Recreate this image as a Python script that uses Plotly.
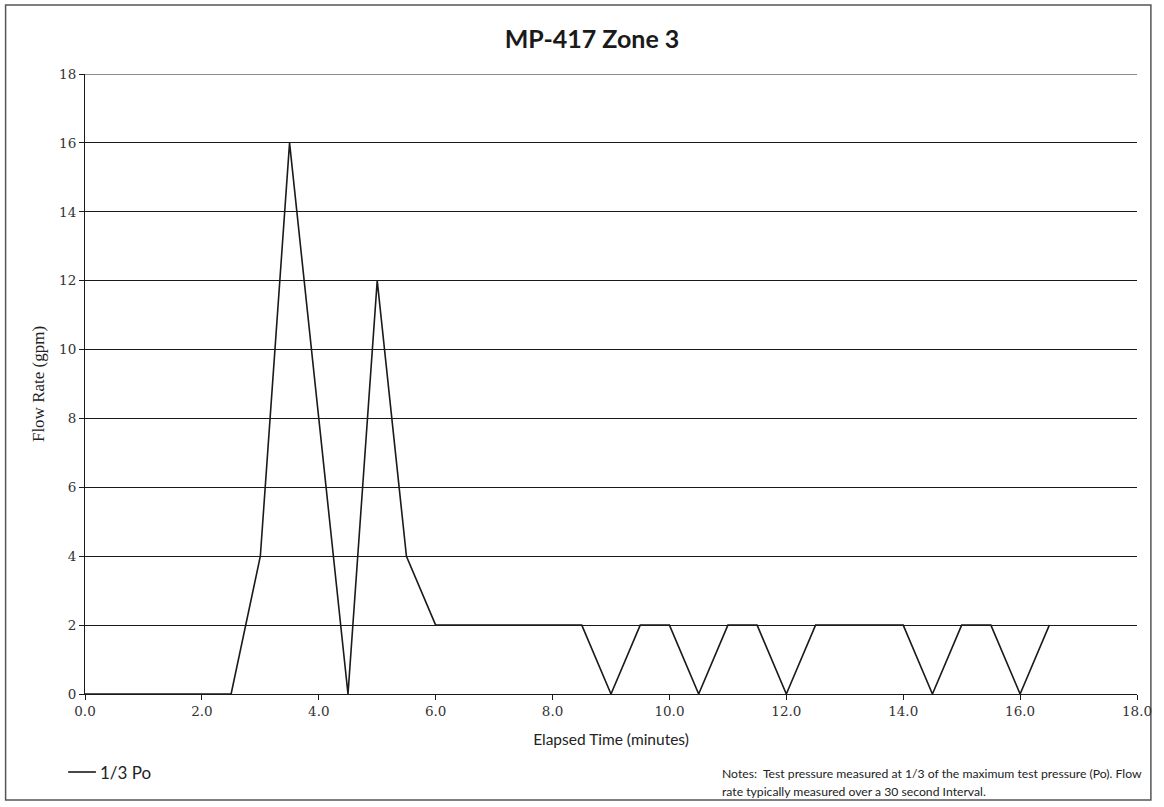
import plotly.graph_objects as go

# Elapsed time (minutes) and flow rate (gpm) at 1/3 Po
elapsed_min = [0.0, 0.5, 1.0, 1.5, 2.0, 2.5, 3.0, 3.5, 4.0, 4.5, 5.0, 5.5,
               6.0, 6.5, 7.0, 7.5, 8.0, 8.5, 9.0, 9.5, 10.0, 10.5, 11.0,
               11.5, 12.0, 12.5, 13.0, 13.5, 14.0, 14.5, 15.0, 15.5, 16.0, 16.5]
flow_gpm = [0, 0, 0, 0, 0, 0, 4, 16, 8, 0, 12, 4,
            2, 2, 2, 2, 2, 2, 0, 2, 2, 0, 2,
            2, 0, 2, 2, 2, 2, 0, 2, 2, 0, 2]

x_ticks = [0, 2, 4, 6, 8, 10, 12, 14, 16, 18]
x_tick_text = ["0.0", "2.0", "4.0", "6.0", "8.0", "10.0", "12.0", "14.0", "16.0", "18.0"]
y_ticks = [0, 2, 4, 6, 8, 10, 12, 14, 16, 18]

series_name = "1/3 Po"
chart_title = "MP-417 Zone 3"
notes_lines = [
    "Notes:  Test pressure measured at 1/3 of the maximum test pressure (Po). Flow",
    "rate typically measured over a 30 second Interval.",
]

W, H = 1164, 807
ML, MR, MT, MB = 85, 19, 74, 113
PW, PH = W - ML - MR, H - MT - MB


def px_to_paper_x(px):
    return (px - ML) / PW


def px_to_paper_y(py):
    return (H - MB - py) / PH


FONT = "Lato"
TICK_FONT = "DejaVu Serif"
INK = "#1a1a1a"

fig = go.Figure()
fig.add_trace(go.Scatter(
    x=elapsed_min, y=flow_gpm, mode="lines", name=series_name,
    line=dict(color=INK, width=1.6), showlegend=False,
))

fig.update_layout(
    width=W, height=H,
    margin=dict(l=ML, r=MR, t=MT, b=MB),
    paper_bgcolor="white", plot_bgcolor="white",
    font=dict(family=FONT, color="#222222", size=13),
    title=dict(text=chart_title, x=592 / W, xref="container", xanchor="center",
               y=1 - 39 / H, yref="container", yanchor="middle",
               font=dict(family=FONT, size=25, color=INK, weight="bold")),
    xaxis=dict(
        range=[0, 18], tickmode="array", tickvals=x_ticks, ticktext=x_tick_text,
        showgrid=False, zeroline=False, showline=True, linecolor=INK,
        linewidth=1, ticks="outside", ticklen=5, tickcolor=INK,
        tickfont=dict(family=TICK_FONT, size=13.5, color="#333333"),
        title=dict(text="Elapsed Time (minutes)", standoff=15,
                   font=dict(family=FONT, size=15.5, color="#222222")),
    ),
    yaxis=dict(
        range=[0, 18], tickmode="array", tickvals=y_ticks,
        showgrid=True, gridcolor=INK, gridwidth=1,
        zeroline=False, showline=True, linecolor=INK, linewidth=1,
        ticks="outside", ticklen=5, tickcolor=INK,
        tickfont=dict(family=TICK_FONT, size=13.5, color="#333333"),
        title=dict(text="Flow Rate (gpm)", standoff=10,
                   font=dict(family="Liberation Serif", size=17, color="#222222")),
    ),
)

# top gridline at the range maximum
fig.add_shape(type="line", xref="paper", yref="y", x0=0, x1=1, y0=18, y1=18,
              line=dict(color=INK, width=1))

# outer frame around the chart
fig.add_shape(type="rect", xref="paper", yref="paper",
              x0=px_to_paper_x(5), x1=px_to_paper_x(1159),
              y0=px_to_paper_y(800), y1=px_to_paper_y(5),
              line=dict(color="#555555", width=1.5), layer="below")

# legend key: short line sample and series label
fig.add_shape(type="line", xref="paper", yref="paper",
              x0=px_to_paper_x(68), x1=px_to_paper_x(96),
              y0=px_to_paper_y(772), y1=px_to_paper_y(772),
              line=dict(color=INK, width=1.6))
fig.add_annotation(text=series_name, xref="paper", yref="paper",
                   x=px_to_paper_x(98), y=px_to_paper_y(772),
                   xanchor="left", yanchor="middle", showarrow=False,
                   font=dict(family=FONT, size=17, color="#222222"))

# notes block, one annotation per line
for i, line in enumerate(notes_lines):
    fig.add_annotation(text=line, xref="paper", yref="paper",
                       x=px_to_paper_x(725), y=px_to_paper_y(773 + 19 * i),
                       xanchor="left", yanchor="middle", align="left",
                       showarrow=False,
                       font=dict(family=FONT, size=12.2, color="#222222"))

fig.write_html("out.html")
